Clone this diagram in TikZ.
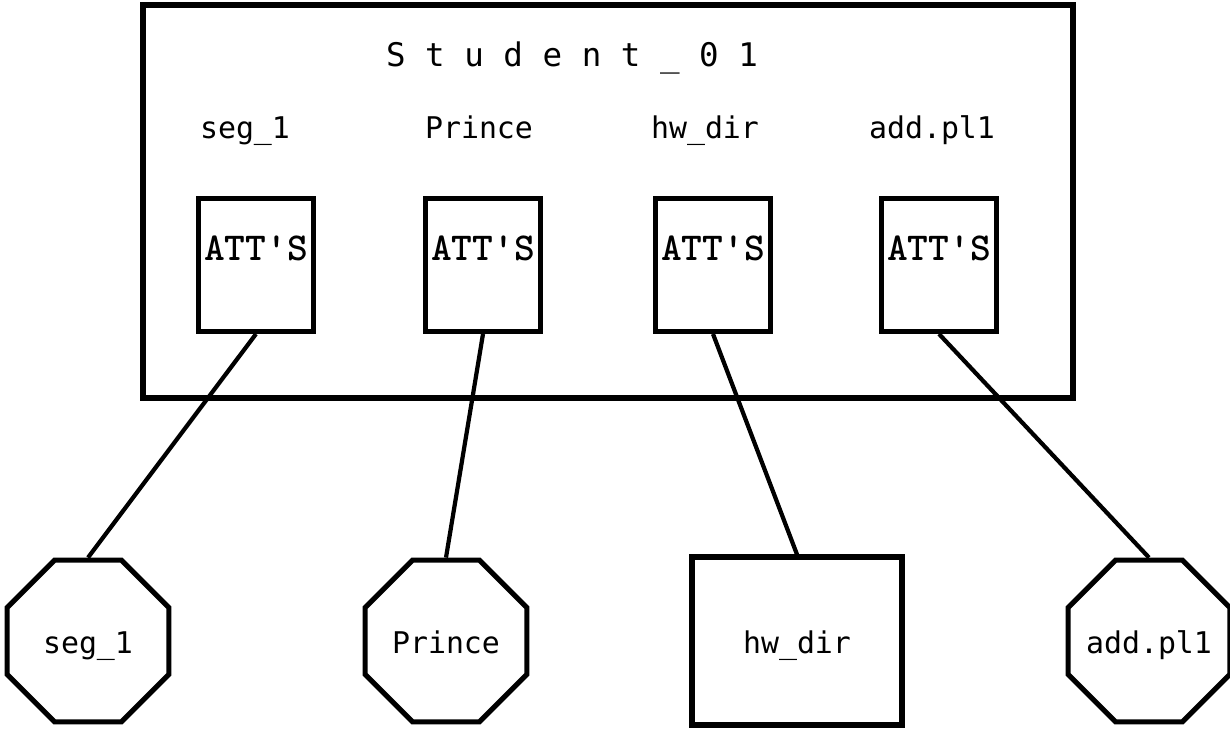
\documentclass[tikz,border=0pt]{standalone}
\usepackage{fontspec}
\newfontfamily\plotfont{DejaVu Sans Mono}
\usetikzlibrary{positioning, shapes.geometric}

\tikzset{
  objlabel/.style={font=\plotfont\fontsize{17}{17}\selectfont, inner sep=1pt, anchor=base},
  attbox/.style={draw, line width=2.8pt, minimum width=2.28cm, inner ysep=0pt,
    text height=1.24cm, text depth=1.42cm, font=\ttfamily\bfseries\fontsize{22.5}{22.5}\selectfont},
  octnode/.style={draw, line width=2.9pt, regular polygon, regular polygon sides=8,
    minimum size=3.5cm, inner sep=0pt, text height=13.7pt, text depth=0pt,
    font=\plotfont\fontsize{17}{17}\selectfont},
  filebox/.style={draw, line width=2.9pt, minimum width=4.2cm, minimum height=3.36cm,
    text height=13.7pt, text depth=0pt, font=\plotfont\fontsize{17}{17}\selectfont},
  link/.style={line width=2.4pt}
}

\begin{document}
\begin{tikzpicture}[x=0.2mm, y=-0.2mm]
  \useasboundingbox (0,0) rectangle (1230,730);

  % Outer object box and its title
  \node[draw, line width=2.9pt, minimum width=18.6cm, minimum height=7.86cm] (student) at (608,201.5) {};
  \node[objlabel, font=\plotfont\fontsize{18.5}{18.5}\selectfont] (title) at (572,67) {S t u d e n t \_ 0 1};

  % Attribute boxes
  \node[attbox] (att1) at (256,265) {ATT'S};
  \node[attbox] (att2) at (483,265) {ATT'S};
  \node[attbox] (att3) at (713,265) {ATT'S};
  \node[attbox] (att4) at (939,265) {ATT'S};

  % Names above the boxes
  \node[objlabel] (lab1) at (245,139) {seg\_1};
  \node[objlabel] (lab2) at (479,139) {Prince};
  \node[objlabel] (lab3) at (705,139) {hw\_dir};
  \node[objlabel] (lab4) at (932,139) {add.pl1};

  % Linked objects below (zero-width text so all octagons keep one size)
  \node[octnode] (seg1) at (88,641) {\makebox[0pt]{seg\_1}};
  \node[octnode] (prince) at (446,641) {\makebox[0pt]{Prince}};
  \node[filebox] (hwdir) at (797,641) {hw\_dir};
  \node[octnode] (addpl1) at (1149,641) {\makebox[0pt]{add.pl1}};

  % Links
  \draw[link] (att1.south) -- (seg1.north);
  \draw[link] (att2.south) -- (prince.north);
  \draw[link] (att3.south) -- (hwdir.north);
  \draw[link] (att4.south) -- (addpl1.north);
\end{tikzpicture}
\end{document}
